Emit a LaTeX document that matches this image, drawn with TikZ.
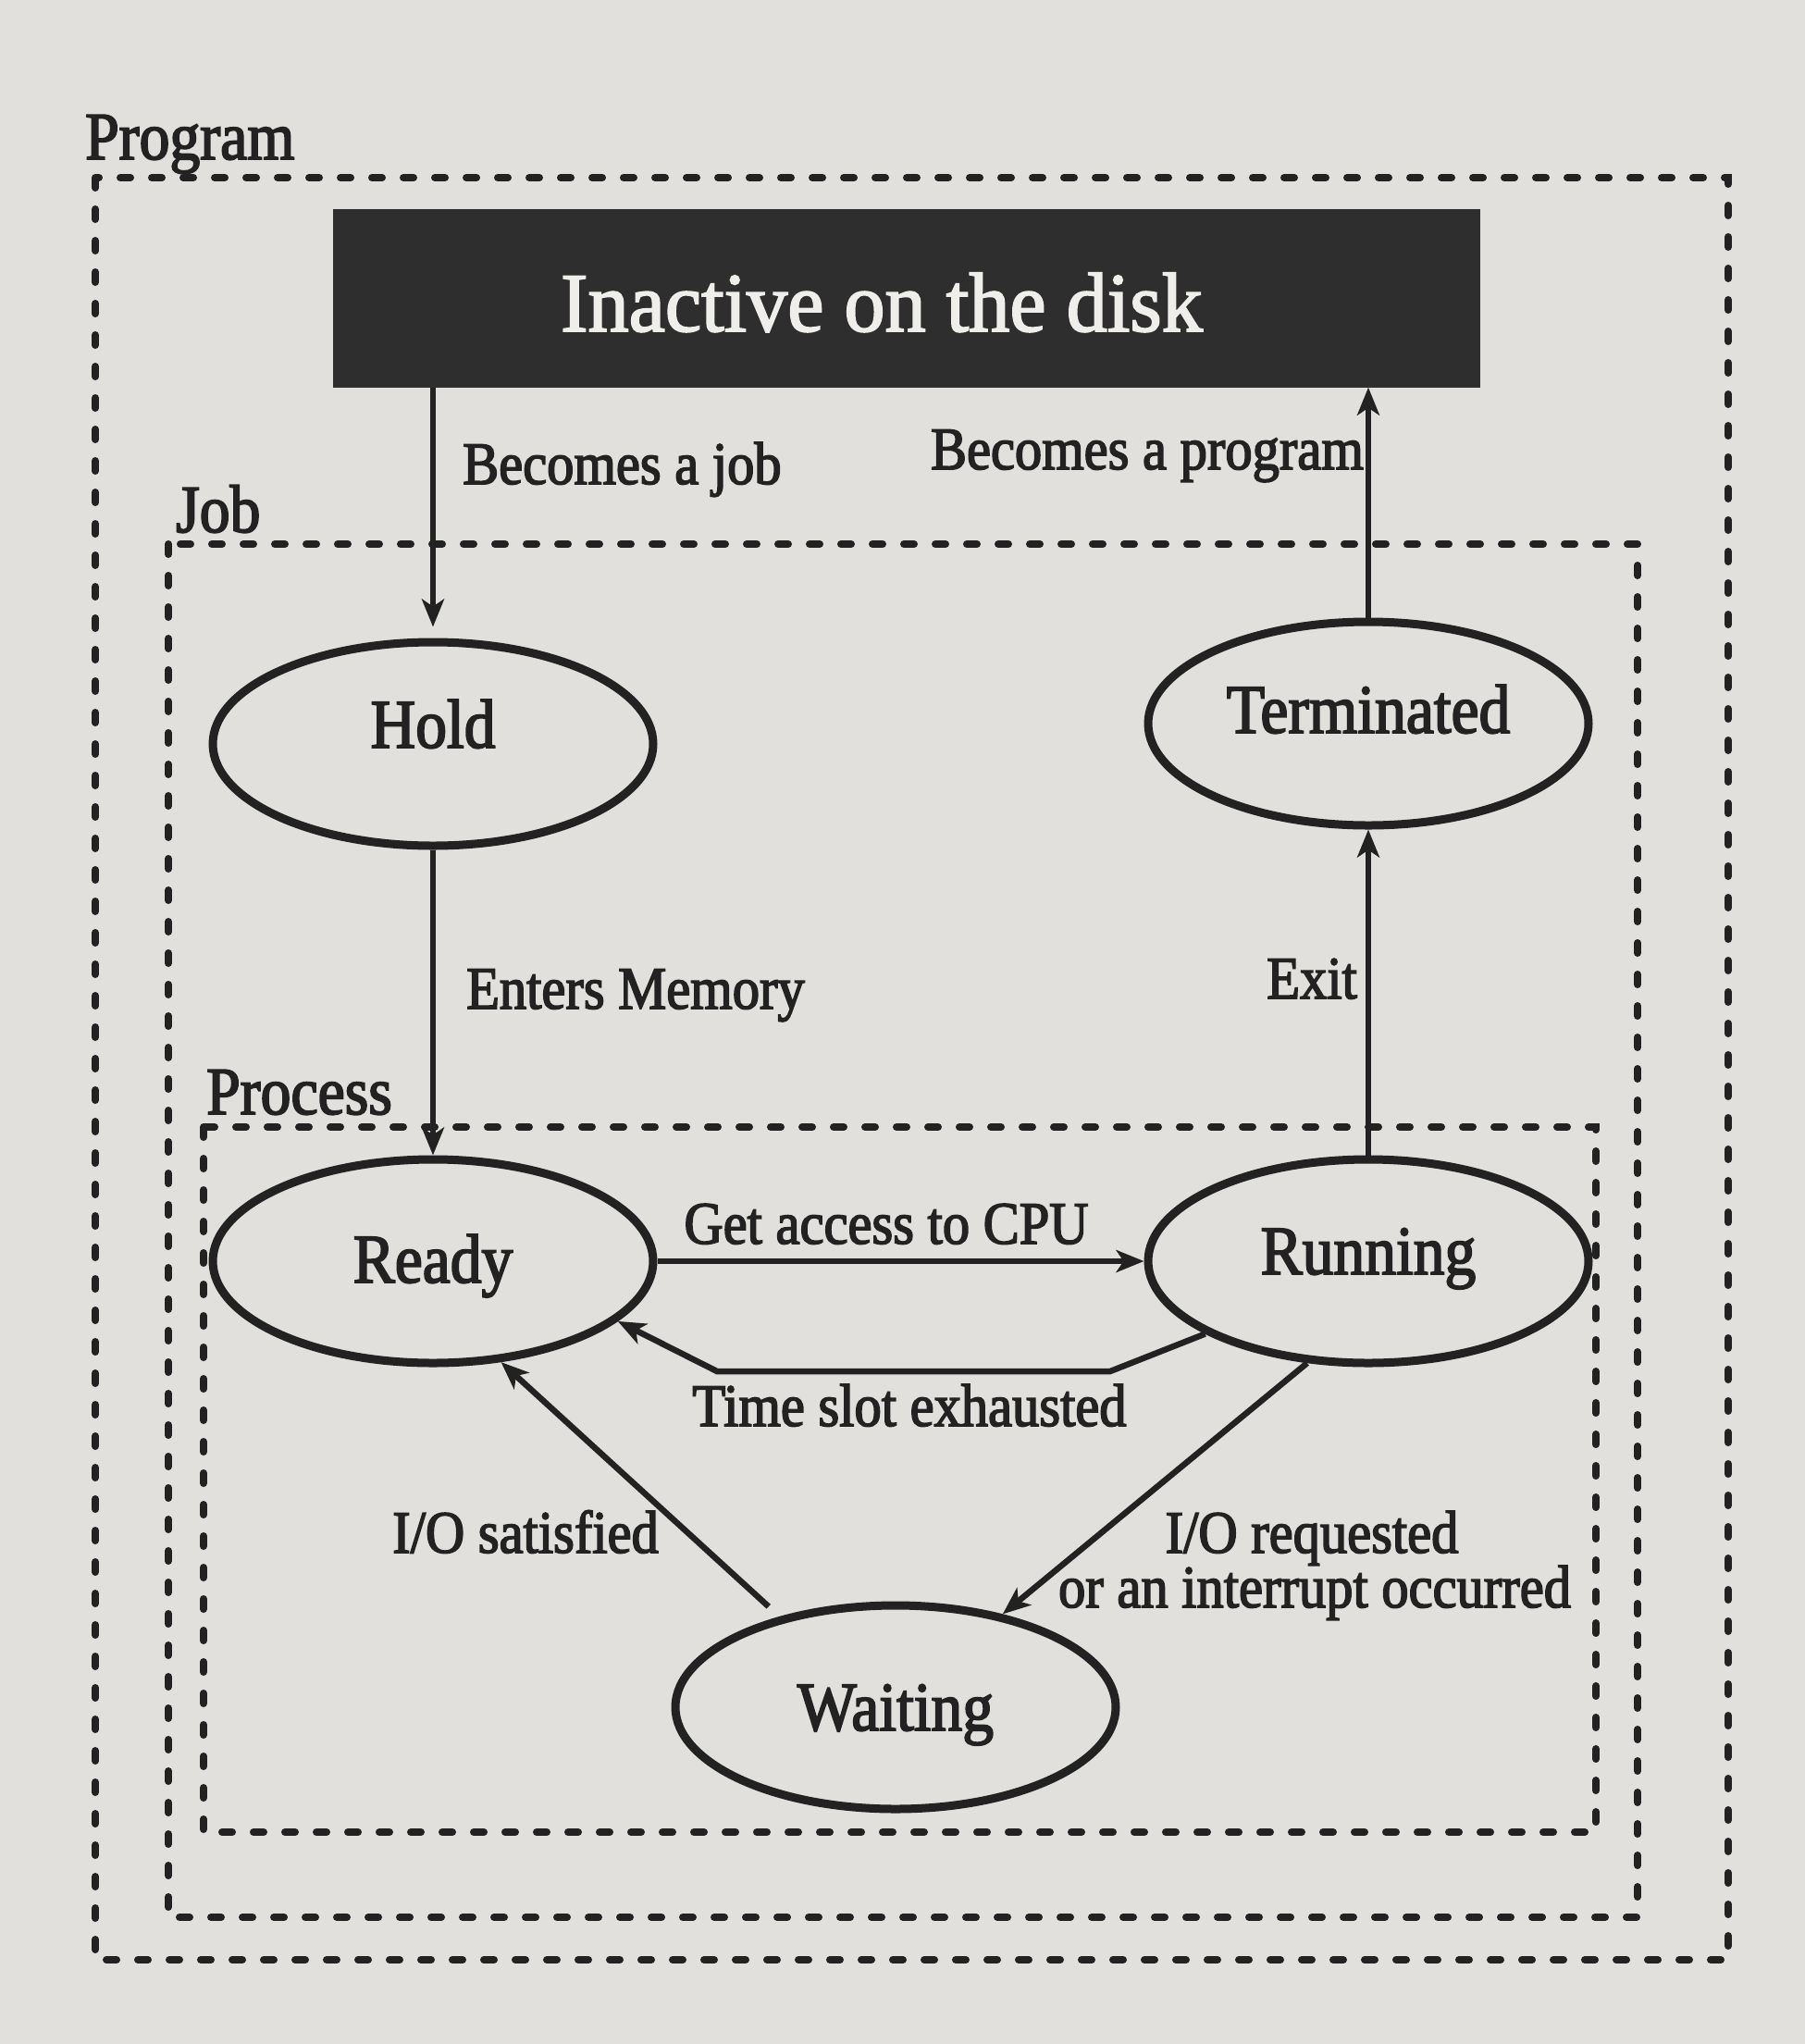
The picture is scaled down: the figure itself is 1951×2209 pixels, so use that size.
\documentclass[tikz,border=0pt]{standalone}
\usepackage{fontspec}
\setmainfont{Liberation Serif}
\newfontfamily\inkfont{Liberation Serif}[FakeStretch=0.9,FakeBold=2.5]
\newfontfamily\headfont{Liberation Serif}[FakeStretch=0.97,FakeBold=2]
\usetikzlibrary{arrows.meta,shapes.geometric}

\definecolor{paper}{RGB}{226,224,220}
\definecolor{ink}{RGB}{34,34,34}
\definecolor{slab}{RGB}{46,46,46}
\definecolor{slabtext}{RGB}{240,238,234}

\newcommand\statefont{\inkfont\fontsize{75}{80}\selectfont}
\newcommand\edgefont{\inkfont\fontsize{65}{70}\selectfont}
\newcommand\zonefont{\inkfont\fontsize{73}{78}\selectfont}
\newcommand\titlefont{\headfont\fontsize{91}{95}\selectfont}

\tikzset{
  state/.style={ellipse, draw=ink, line width=9pt, minimum width=476pt,
    minimum height=220pt, inner sep=0pt, font=\statefont, text=ink,
    text depth=0pt},
  flow/.style={draw=ink, line width=6.5pt,
    -{Stealth[length=30pt,width=24pt,inset=8pt]}},
  elabel/.style={font=\edgefont, text=ink, inner sep=0pt},
  zlabel/.style={font=\zonefont, text=ink, inner sep=0pt, anchor=base west},
  zone/.style={draw=ink, line width=8pt, dash pattern=on 11pt off 23pt,
    line cap=round},
}

\begin{document}
\begin{tikzpicture}[x=1pt,y=-1pt]
  % page and paper
  \useasboundingbox (0,0) rectangle (1951,2209);
  \fill[paper] (0,0) rectangle (1951,2209);

  % nested dashed zones: program, job, process
  \draw[zone] (103,192) rectangle (1868,2118);
  \draw[zone] (182,588) rectangle (1770,2072);
  \draw[zone] (220,1218) rectangle (1725,1980);
  \node[zlabel] (lprog) at (92,172) {Program};
  \node[zlabel] (ljob) at (190,575) {Job};
  \node[zlabel] (lproc) at (223,1204) {Process};

  % the disk slab
  \node[fill=slab, minimum width=1240pt, minimum height=193pt, inner sep=0pt]
    (disk) at (980,322) {};
  \node[text=slabtext, font=\titlefont, inner sep=0pt, anchor=base]
    (title) at (953,358) {Inactive on the disk};

  % states
  \node[state, text height=8pt] (hold) at (468,804) {Hold};
  \node[state, text height=20pt] (term) at (1479,782) {Terminated};
  \node[state, text height=46pt] (ready) at (468,1363) {Ready};
  \node[state, text height=28pt] (run) at (1479,1363) {Running};
  \node[state, text height=50pt] (wait) at (968,1845) {Waiting};

  % transitions
  \draw[flow, shorten >=12pt] (hold.north |- disk.south) -- (hold.north);
  \draw[flow] (term.north) -- (term.north |- disk.south);
  \draw[flow] (hold.south) -- (ready.north);
  \draw[flow] (run.north) -- (term.south);
  \draw[flow] (ready.east) -- (run.west);
  \coordinate (ts1) at (1200,1482);
  \coordinate (ts2) at (775,1482);
  \draw[flow] (run.-156.6) -- (ts1) -- (ts2) -- (ready.-18.5);
  \draw[flow, shorten <=16pt] (wait.142.3) -- (ready.-56.3);
  \draw[flow] (run.-121.7) -- (wait.41.3);

  % transition labels
  \node[elabel, anchor=base west] (ljobin) at (500,523) {Becomes a job};
  \node[elabel, anchor=base east] (lprogout) at (1474,507) {Becomes a program};
  \node[elabel, anchor=base west] (lmem) at (504,1090) {Enters Memory};
  \node[elabel, anchor=base east] (lexit) at (1467,1079) {Exit};
  \node[elabel, anchor=base] (lcpu) at (958,1344) {Get access to CPU};
  \node[elabel, anchor=base] (lslot) at (983,1541) {Time slot exhausted};
  \node[elabel, anchor=base east] (lsat) at (712,1678) {I/O satisfied};
  \node[elabel, anchor=base] (lreq) at (1418,1678) {I/O requested};
  \node[elabel, anchor=base] (lint) at (1421,1737) {or an interrupt occurred};
\end{tikzpicture}
\end{document}
